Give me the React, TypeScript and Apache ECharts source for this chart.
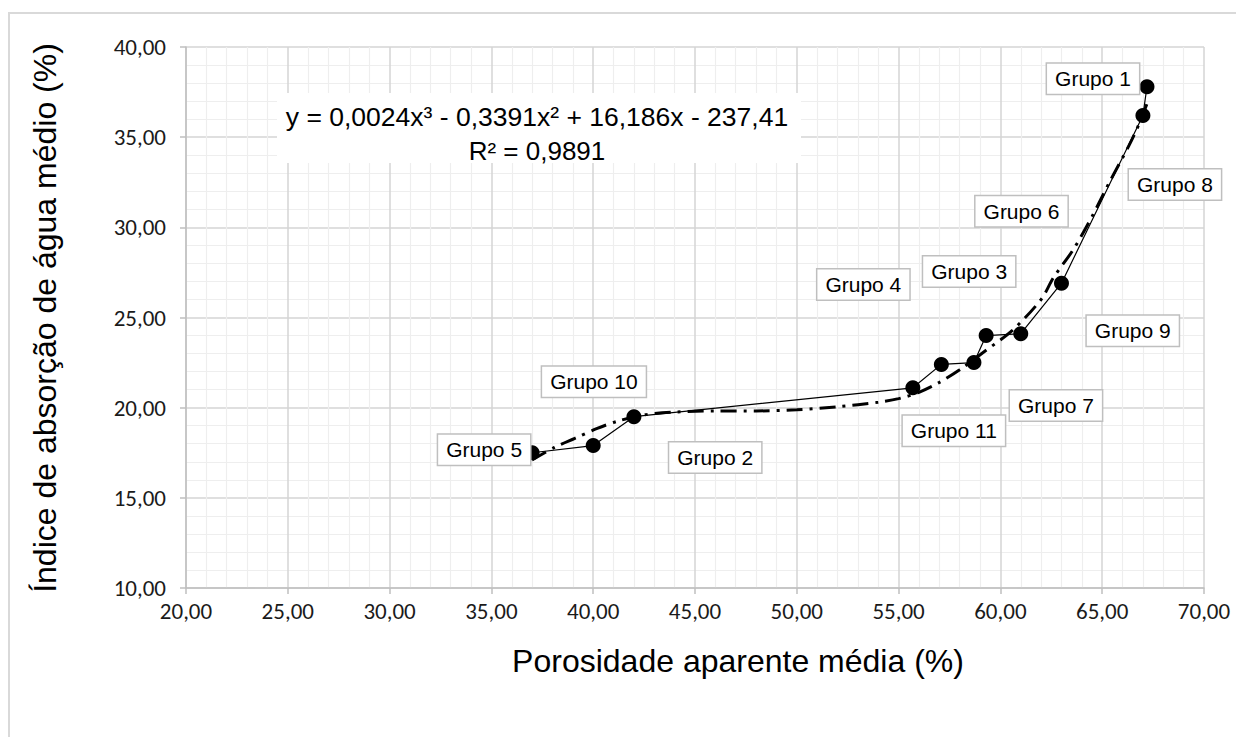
import React, { useEffect, useRef } from "react";
import * as echarts from "echarts";

// Measured data (porosity %, water absorption %)
const porosity = [37.0, 40.0, 42.0, 55.7, 57.1, 58.7, 59.3, 61.0, 63.0, 67.0, 67.2];
const absorption = [17.5, 17.9, 19.5, 21.1, 22.4, 22.5, 24.0, 24.1, 26.9, 36.2, 37.8];
const groupNames = [
  "Grupo 5", "Grupo 2", "Grupo 10", "Grupo 11", "Grupo 4", "Grupo 7",
  "Grupo 3", "Grupo 9", "Grupo 6", "Grupo 8", "Grupo 1",
];
// label box offsets (px) relative to each point
const labelOffsets = [
  [-48, -3], [122, 12], [-40, -35], [41, 43], [-78, -80], [82, 43],
  [-17, -64], [112, -3], [-40, -72], [32, 69], [-54, -8],
];

// Polynomial trend line
const trendX = [37.0, 38.1, 39.1, 40.2, 41.2, 42.5, 44.1, 46.0, 48.0, 50.0, 52.0, 54.0, 55.0, 56.0, 57.0, 58.0, 59.2, 60.6, 62.0, 62.6, 63.6, 64.5, 65.4, 66.3, 66.8, 67.25];
const trendY = [17.1, 17.8, 18.3, 18.85, 19.25, 19.6, 19.76, 19.82, 19.82, 19.88, 20.05, 20.3, 20.5, 20.85, 21.4, 22.1, 23.1, 24.3, 26.0, 27.2, 28.8, 30.6, 32.6, 34.5, 35.7, 37.0];

const equationLine = "y = 0,0024x³ - 0,3391x² + 16,186x - 237,41";
const r2Line = "R² = 0,9891";
const xTitle = "Porosidade aparente média (%)";
const yTitle = "Índice de absorção de água médio (%)";

const fmt = (v: number) => v.toFixed(2).replace(".", ",");

export default function App() {
  const ref = useRef<HTMLDivElement>(null);
  useEffect(() => {
    if (!ref.current) return;
    const chart = echarts.init(ref.current, undefined, { renderer: "svg" });
    const arial = "'Liberation Sans', Arial, sans-serif";
    const calibri = "Carlito, Lato, sans-serif";
    const major = "#d4d4d4";
    const minor = "#eeeeee";
    chart.setOption({
      animation: false,
      backgroundColor: "#ffffff",
      grid: { left: 186, right: 32, top: 47, bottom: 149, containLabel: false },
      xAxis: {
        type: "value",
        min: 20,
        max: 70,
        interval: 5,
        axisLine: { show: true, lineStyle: { color: "#bfbfbf", width: 1.5 } },
        axisTick: { show: true, length: 6, lineStyle: { color: "#bfbfbf", width: 1.5 } },
        axisLabel: { formatter: fmt, fontFamily: calibri, fontSize: 23, color: "#1a1a1a", margin: 11 },
        splitLine: { show: true, lineStyle: { color: major, width: 1.5 } },
        minorTick: { show: false, splitNumber: 5 },
        minorSplitLine: { show: true, lineStyle: { color: minor, width: 1.2 } },
      },
      yAxis: {
        type: "value",
        min: 10,
        max: 40,
        interval: 5,
        axisLine: { show: true, lineStyle: { color: "#bfbfbf", width: 1.5 } },
        axisTick: { show: true, length: 6, lineStyle: { color: "#bfbfbf", width: 1.5 } },
        axisLabel: { formatter: fmt, fontFamily: calibri, fontSize: 23, color: "#1a1a1a", margin: 20 },
        splitLine: { show: true, lineStyle: { color: major, width: 1.5 } },
        minorTick: { show: false, splitNumber: 5 },
        minorSplitLine: { show: true, lineStyle: { color: minor, width: 1.2 } },
      },
      series: [
        {
          type: "line",
          data: trendX.map((x, i) => [x, trendY[i]]),
          showSymbol: false,
          smooth: 0.3,
          lineStyle: { color: "#000", width: 3, type: [16, 7, 3, 7] },
          z: 2,
        },
        {
          type: "line",
          data: porosity.map((x, i) => ({
            value: [x, absorption[i]],
            label: {
              show: true,
              position: "inside",
              offset: labelOffsets[i],
              formatter: groupNames[i],
            },
          })),
          symbol: "circle",
          symbolSize: 15,
          itemStyle: { color: "#000" },
          lineStyle: { color: "#000", width: 1.2 },
          label: {
            show: true,
            fontFamily: arial,
            fontSize: 21,
            color: "#000",
            backgroundColor: "#fff",
            borderColor: "#bfbfbf",
            borderWidth: 1.5,
            padding: [5, 8, 4, 8],
          },
          z: 3,
        },
      ],
      graphic: [
        {
          type: "rect",
          shape: { x: 9, y: 13, width: 1400, height: 900 },
          style: { fill: "none", stroke: "#d9d9d9", lineWidth: 2 },
          silent: true,
          z: 100,
        },
        {
          type: "rect",
          shape: { x: 277, y: 93, width: 524, height: 70 },
          style: { fill: "#ffffff" },
          z: 10,
        },
        {
          type: "text",
          x: 537,
          y: 117,
          style: { text: equationLine, fontFamily: arial, fontSize: 26.5, fill: "#000", textAlign: "center", textVerticalAlign: "middle" },
          z: 11,
        },
        {
          type: "text",
          x: 537,
          y: 151,
          style: { text: r2Line, fontFamily: arial, fontSize: 26, fill: "#000", textAlign: "center", textVerticalAlign: "middle" },
          z: 11,
        },
        {
          type: "text",
          x: 738,
          y: 661,
          style: { text: xTitle, fontFamily: arial, fontSize: 32, fill: "#000", textAlign: "center", textVerticalAlign: "middle" },
          z: 11,
        },
        {
          type: "text",
          x: 45,
          y: 318,
          rotation: Math.PI / 2,
          style: { text: yTitle, fontFamily: arial, fontSize: 32, fill: "#000", textAlign: "center", textVerticalAlign: "middle" },
          z: 11,
        },
      ],
    });
    return () => chart.dispose();
  }, []);
  return (
    <div
      ref={ref}
      style={{ position: "absolute", left: 0, top: 0, width: 1236, height: 737 }}
    />
  );
}
